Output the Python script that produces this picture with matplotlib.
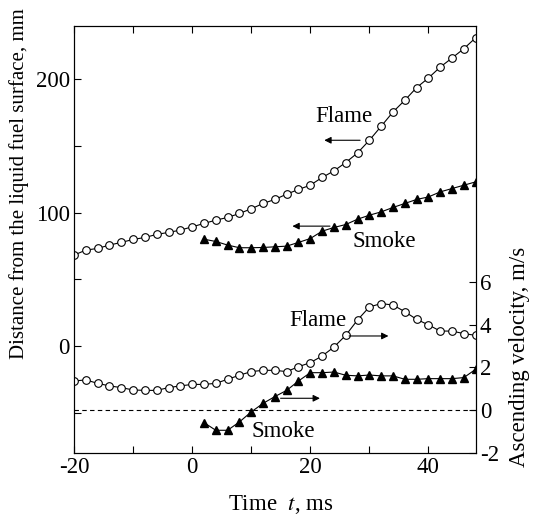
import numpy as np
import matplotlib.pyplot as plt
from matplotlib.ticker import MultipleLocator, FixedLocator

plt.rcParams['font.family'] = ['Liberation Serif', 'DejaVu Serif']
plt.rcParams['mathtext.fontset'] = 'stix'
plt.rcParams['axes.unicode_minus'] = False

# flame / smoke data, time in ms
t_flame = np.arange(-20, 49, 2)
dist_flame = [68.2, 71.9, 73.2, 75.7, 77.7, 79.9, 81.4, 83.7, 85.2, 86.9,
              89.4, 91.9, 94.4, 96.4, 99.4, 102.9, 106.9, 109.9, 113.9, 117.4,
              120.6, 126.4, 131.3, 137.6, 144.8, 154.3, 164.8, 175.5, 184.3, 193.8,
              201.0, 209.2, 216.0, 223.0, 231.2]
vel_flame = [1.36, 1.41, 1.25, 1.13, 1.05, 0.94, 0.92, 0.92, 1.05, 1.13,
             1.20, 1.20, 1.25, 1.44, 1.63, 1.80, 1.86, 1.86, 1.80, 2.03,
             2.22, 2.53, 2.95, 3.50, 4.22, 4.83, 4.99, 4.92, 4.61, 4.25,
             3.99, 3.70, 3.70, 3.58, 3.50]

t_smoke = np.arange(2, 49, 2)
dist_smoke = [80.1, 78.4, 75.7, 73.7, 73.7, 73.9, 74.4, 74.9, 77.7, 80.6,
              86.1, 88.9, 91.1, 95.1, 98.1, 100.6, 103.9, 106.9, 109.9, 111.8,
              115.6, 118.1, 120.6, 123.1]
vel_smoke = [-0.59, -0.95, -0.95, -0.56, -0.09, 0.31, 0.63, 0.92, 1.36, 1.75,
             1.75, 1.78, 1.63, 1.60, 1.64, 1.60, 1.60, 1.44, 1.44, 1.47,
             1.47, 1.47, 1.52, 1.91]

fs = 16.5
fig = plt.figure(figsize=(5.34, 5.22), dpi=100)
ax = fig.add_axes([0.1386, 0.1328, 0.7522, 0.8174])
ax2 = ax.twinx()

ax.plot(t_flame, dist_flame, '-o', color='black', mfc='white', ms=5.5, lw=0.8, mew=0.8)
ax.plot(t_smoke, dist_smoke, '-^', color='black', ms=6, lw=0.8)
ax2.plot(t_flame, vel_flame, '-o', color='black', mfc='white', ms=5.5, lw=0.8, mew=0.8)
ax2.plot(t_smoke, vel_smoke, '-^', color='black', ms=6, lw=0.8)
ax2.axhline(0, color='black', ls='--', lw=0.8, dashes=(4, 3))

ax.set_xlim(-20, 48)
ax.set_ylim(-80, 240)
ax2.set_ylim(-2, 18)

ax.xaxis.set_major_locator(MultipleLocator(20))
ax.xaxis.set_minor_locator(MultipleLocator(10))
ax.yaxis.set_major_locator(MultipleLocator(100))
ax.yaxis.set_minor_locator(MultipleLocator(50))
ax2.yaxis.set_major_locator(FixedLocator([-2, 0, 2, 4, 6]))

ax.tick_params(which='both', direction='in', length=5, width=0.8, top=True, right=False,
               labelsize=fs, pad=3)
ax2.tick_params(which='both', direction='in', length=5, width=0.8, labelsize=fs, pad=3)
for a in (ax, ax2):
    for s in a.spines.values():
        s.set_linewidth(0.8)

ax.set_xlabel('Time  $t$, ms', fontsize=fs)
ax.xaxis.set_label_coords(0.515, -0.094)
ax.set_ylabel('Distance from the liquid fuel surface, mm', fontsize=15)
ax.yaxis.set_label_coords(-0.113, 0.631)
ax2.set_ylabel('Ascending velocity, m/s', fontsize=fs)
ax2.yaxis.set_label_coords(1.082, 0.224)

arw = dict(arrowstyle='-|>', color='black', lw=0.8, mutation_scale=10)
ax.text(25.6, 172.3, 'Flame', fontsize=fs, ha='center', va='center')
ax.annotate('', xy=(21.9, 154.3), xytext=(28.9, 154.3), arrowprops=arw)
ax.text(32.6, 78.1, 'Smoke', fontsize=fs, ha='center', va='center')
ax.annotate('', xy=(16.5, 89.9), xytext=(23.8, 89.9), arrowprops=arw)
ax2.text(21.3, 4.2, 'Flame', fontsize=fs, ha='center', va='center')
ax2.annotate('', xy=(33.7, 3.47), xytext=(26.1, 3.47), arrowprops=arw)
ax2.text(15.5, -1.01, 'Smoke', fontsize=fs, ha='center', va='center')
ax2.annotate('', xy=(22.1, 0.55), xytext=(14.5, 0.55), arrowprops=arw)

fig.savefig('out.png', dpi=100)
